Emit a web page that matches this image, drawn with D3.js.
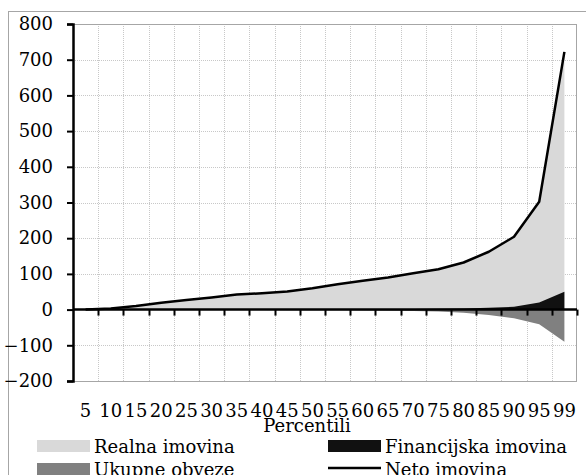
<!DOCTYPE html>
<html>
<head>
<meta charset="utf-8">
<script src="https://cdn.jsdelivr.net/npm/d3@7"></script>
<style>
  html, body { margin: 0; padding: 0; background: #fff; }
  svg { display: block; }
  text { font-family: "DejaVu Serif", "Liberation Serif", serif; fill: #000; }
</style>
</head>
<body>
<script>
const percentiles = ["5","10","15","20","25","30","35","40","45","50","55","60","65","70","75","80","85","90","95","99"];
const realnaImovina = [0, 3, 10, 18, 26, 33, 41, 46, 51, 59, 70, 80, 89, 101, 112, 131, 160, 202, 300, 720];
const financijskaImovina = [0, 0.3, 0.4, 0.5, 0.6, 0.7, 0.8, 0.9, 1, 1.1, 1.2, 1.4, 1.6, 1.9, 2.3, 3, 5, 8, 20, 50];
const ukupneObveze = [0, -0.3, -0.5, -0.7, -0.9, -1, -1.2, -1.4, -1.6, -1.8, -2, -2.4, -3, -3.6, -5, -9, -15, -24, -41, -90];
const netoImovina = [0, 3, 10, 19, 27, 34, 42, 46, 51, 60, 71, 81, 90, 102, 113, 132, 162, 204, 302, 722];
const yTicks = [-200, -100, 0, 100, 200, 300, 400, 500, 600, 700, 800];

const W = 586, H = 475;
const plot = { left: 73, top: 24, right: 577, bottom: 381 };
const FS = 18;

const svg = d3.select("body").append("svg").attr("width", W).attr("height", H);

// outer chart border
svg.append("rect").attr("x", 8.5).attr("y", 11.5).attr("width", 600).attr("height", 500)
  .attr("fill", "none").attr("stroke", "#a6a6a6").attr("stroke-width", 1);

const x = d3.scaleBand().domain(percentiles).range([plot.left, plot.right]).padding(0);
const y = d3.scaleLinear().domain([-200, 800]).range([plot.bottom, plot.top]);
const cx = d => x(d) + x.bandwidth() / 2;

// gridlines
const grid = svg.append("g");
grid.selectAll("line.h").data(yTicks.filter(v => v !== 0 && v !== 800 && v !== -200)).join("line")
  .attr("x1", plot.left).attr("x2", plot.right)
  .attr("y1", d => Math.round(y(d)) + 0.5).attr("y2", d => Math.round(y(d)) + 0.5)
  .attr("stroke", "#c8c8c8").attr("stroke-width", 1).attr("stroke-dasharray", "1,1");
grid.selectAll("line.v").data(percentiles.slice(1)).join("line")
  .attr("x1", d => Math.round(x(d)) + 0.5).attr("x2", d => Math.round(x(d)) + 0.5)
  .attr("y1", plot.top).attr("y2", plot.bottom)
  .attr("stroke", "#c8c8c8").attr("stroke-width", 1).attr("stroke-dasharray", "1,1");

// plot area border
svg.append("rect").attr("x", plot.left + 0.5).attr("y", plot.top + 0.5)
  .attr("width", plot.right - plot.left - 1).attr("height", plot.bottom - plot.top)
  .attr("fill", "none").attr("stroke", "#a6a6a6").attr("stroke-width", 1);

// areas
const area = (vals) => d3.area()
  .x((d, i) => cx(percentiles[i]))
  .y0(y(0)).y1(d => y(d))(vals);

svg.append("path").attr("d", area(realnaImovina)).attr("fill", "#d9d9d9");
svg.append("path").attr("d", area(ukupneObveze)).attr("fill", "#808080");
svg.append("path").attr("d", area(financijskaImovina)).attr("fill", "#111111");

// net line
svg.append("path")
  .attr("d", d3.line().x((d, i) => cx(percentiles[i])).y(d => y(d))(netoImovina))
  .attr("fill", "none").attr("stroke", "#000").attr("stroke-width", 2.5)
  .attr("stroke-linejoin", "round");

// zero axis with ticks
const xAxis = svg.append("g");
xAxis.append("line").attr("x1", plot.left).attr("x2", plot.right)
  .attr("y1", y(0)).attr("y2", y(0)).attr("stroke", "#000").attr("stroke-width", 2.5);
const bounds = percentiles.slice(1).map(p => x(p)).concat([plot.right]);
xAxis.selectAll("line.t").data(bounds).join("line")
  .attr("x1", d => Math.round(d) + 0.5).attr("x2", d => Math.round(d) + 0.5)
  .attr("y1", y(0)).attr("y2", y(0) + 6).attr("stroke", "#000").attr("stroke-width", 2);

// y axis
const yAxis = d3.axisLeft(y).tickValues(yTicks).tickSize(6).tickPadding(14).tickFormat(d3.format("d"));
const yg = svg.append("g").attr("transform", `translate(${plot.left},0)`).call(yAxis);
yg.select(".domain").attr("stroke", "#000").attr("stroke-width", 2.5);
yg.selectAll(".tick line").attr("stroke", "#000").attr("stroke-width", 2);
yg.selectAll(".tick text").attr("font-size", FS).attr("font-family", "DejaVu Serif").attr("fill", "#000");

// x tick labels
svg.append("g").selectAll("text").data(percentiles).join("text")
  .attr("x", d => cx(d)).attr("y", 417).attr("text-anchor", "middle")
  .attr("font-size", FS).text(d => d);

// x title
svg.append("text").attr("x", 307).attr("y", 432).attr("text-anchor", "middle")
  .attr("font-size", FS).text("Percentili");

// legend
const legend = [
  { name: "Realna imovina", type: "rect", color: "#d9d9d9", x: 37, y: 446 },
  { name: "Financijska imovina", type: "rect", color: "#111111", x: 328, y: 446 },
  { name: "Ukupne obveze", type: "rect", color: "#808080", x: 37, y: 469 },
  { name: "Neto imovina", type: "line", color: "#000", x: 328, y: 469 }
];
const lg = svg.append("g").selectAll("g").data(legend).join("g");
lg.each(function(d) {
  const g = d3.select(this);
  if (d.type === "rect") {
    g.append("rect").attr("x", d.x).attr("y", d.y - 6).attr("width", 53).attr("height", 12).attr("fill", d.color);
  } else {
    g.append("line").attr("x1", d.x).attr("x2", d.x + 53).attr("y1", d.y - 1).attr("y2", d.y - 1)
      .attr("stroke", d.color).attr("stroke-width", 2.5);
  }
  g.append("text").attr("x", d.x + 57).attr("y", d.y + 7).attr("font-size", FS).text(d.name);
});
</script>
</body>
</html>
